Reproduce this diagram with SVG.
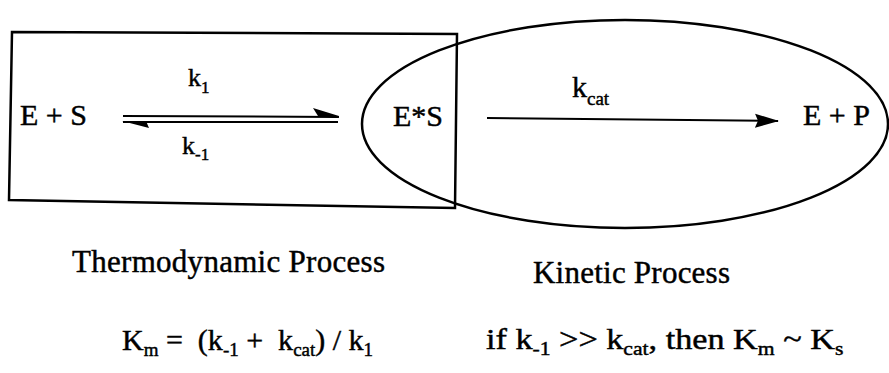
<svg xmlns="http://www.w3.org/2000/svg" width="889" height="373" viewBox="0 0 889 373">
<style>
  text { font-family: "Liberation Serif", "Times New Roman", serif; fill: #000; stroke: #000; stroke-width: 0.45; }
  .t { font-size: 30px; }
  .c { font-size: 31px; }
  .f { font-size: 30px; }
  .k { font-size: 26px; }
  .s { font-size: 19px; }
  .ss { font-size: 17px; }
  .shape { fill: none; stroke: #000; stroke-width: 2.5; }
  .ln { fill: none; stroke: #000; stroke-width: 2; }
</style>
<defs>
  <marker id="ah" markerUnits="userSpaceOnUse" markerWidth="24" markerHeight="16" refX="23" refY="8" orient="auto">
    <path d="M0,1 L24,8 L0,15 L3,8 z" fill="#000"/>
  </marker>
</defs>

<g id="thermo-region">
  <polygon class="shape" points="12,32 457,34 455,208 9,200"/>
</g>
<g id="kinetic-region">
  <ellipse class="shape" cx="625" cy="124" rx="263" ry="104"/>
</g>

<g id="connectors">
  <line class="ln" x1="123" y1="116" x2="338" y2="117"/>
  <polygon points="313,108 339,116 339,118 318,116" fill="#000"/>
  <line class="ln" x1="123" y1="122" x2="338" y2="122"/>
  <polygon points="122,121 146,121 149,128" fill="#000"/>
  <line class="ln" x1="487" y1="118" x2="778" y2="121" marker-end="url(#ah)"/>
  <text class="k" x="188" y="86">k<tspan class="ss" dy="7">1</tspan></text>
  <text class="k" x="182" y="154">k<tspan class="ss" dy="6">-1</tspan></text>
  <text class="t" x="572" y="97">k<tspan class="s" dy="8">cat</tspan></text>
</g>

<g id="node-ES">
  <text class="t" x="20" y="125">E + S</text>
</g>
<g id="node-EstarS">
  <text class="t" x="393" y="126">E*S</text>
</g>
<g id="node-EP">
  <text class="t" x="803" y="125">E + P</text>
</g>

<g id="captions">
  <text class="c" x="72" y="272" textLength="313" lengthAdjust="spacing">Thermodynamic Process</text>
  <text class="c" x="533" y="283" textLength="197" lengthAdjust="spacing">Kinetic Process</text>
</g>

<g id="formulas">
  <text class="f" x="122" y="350" xml:space="preserve">K<tspan class="s" dy="6">m</tspan><tspan dy="-6"> =  (k</tspan><tspan class="s" dy="6">-1</tspan><tspan dy="-6"> +  k</tspan><tspan class="s" dy="6">cat</tspan><tspan dy="-6">) / k</tspan><tspan class="s" dy="6">1</tspan></text>
  <text class="f" transform="translate(486,349) scale(1.14,1)" x="0" y="0">if k<tspan class="s" dy="6">-1</tspan><tspan dy="-6"> &gt;&gt; k</tspan><tspan class="s" dy="6">cat</tspan><tspan dy="-6">, then K</tspan><tspan class="s" dy="6">m</tspan><tspan dy="-6"> ~ K</tspan><tspan class="s" dy="6">s</tspan></text>
</g>
</svg>
